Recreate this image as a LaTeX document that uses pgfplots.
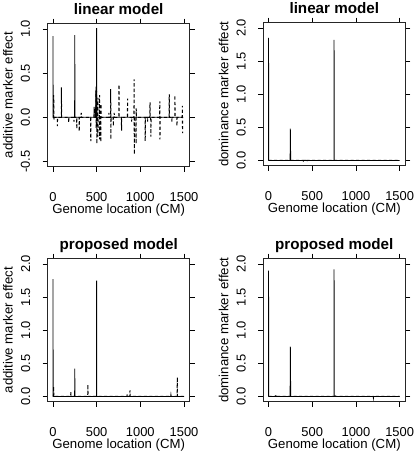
\documentclass[border=0pt]{standalone}
\usepackage{fontspec}
\setmainfont{Liberation Sans}
\usepackage{pgfplots}
\pgfplotsset{compat=1.18}

\pgfplotsset{
  rplot/.style={
    scale only axis, width=142pt, height=143pt,
    axis line style={line width=0.8pt, black!85},
    tick align=outside,
    major tick length=5pt,
    tick style={black, line width=0.6pt},
    xtick={0,500,1000,1500},
    xmin=-60, xmax=1565,
    /pgf/number format/assume math mode=true,
    /pgf/number format/1000 sep={},
    ticklabel style={font=\fontsize{12.9}{15}\selectfont},
    xticklabel style={anchor=base, yshift=-30pt},
    yticklabel style={xshift=-12.7pt, rotate=90, anchor=base,
      /pgf/number format/fixed, /pgf/number format/fixed zerofill,
      /pgf/number format/precision=1},
    xlabel={Genome location (CM)},
    label style={font=\fontsize{13.2}{15}\selectfont},
    every axis title/.style={font=\bfseries\fontsize{15.2}{18}\selectfont, at={(axis description cs:0.5,1.066)}, anchor=base},
    xlabel style={at={(axis description cs:0.5,-0.326)}, anchor=base},
    ylabel style={at={(axis description cs:-0.2465,0.5)}, anchor=base},
    clip=true,
  },
  solidline/.style={black, line width=0.8pt, sharp plot, no marks},
  dashline/.style={black, line width=1pt, sharp plot, no marks, dash pattern=on 3pt off 2.5pt},
}

\begin{document}
\begin{tikzpicture}
\useasboundingbox (0,0) rectangle (415pt,455pt);

% Panel 1: additive, linear model
\begin{axis}[rplot, at={(47.7pt,288.3pt)}, anchor=south west,
  title={linear model}, ylabel={additive marker effect},
  ymin=-0.56, ymax=1.06, ytick={-0.5,0,0.5,1}]
\addplot[dashline] table {
0 0
7 0
9 0.25
11 0
13 -0.03
15 0
49 0
51 -0.1
53 0
95 0
97 0.34
99 0
179 0
181 -0.06
183 0
239 0
241 -0.05
243 0
271 0
273 -0.13
275 0
299 0
301 -0.16
303 0
322 0
324 0.05
326 0
431 0
433 -0.27
435 0
469 0
471 0.12
473 0
484 0
486 0.1
488 0
491 0
493 0.35
495 -0.12
497 0
499 0
501 0.3
503 -0.3
505 0
511 0
513 0.22
515 -0.22
517 0
531 0
533 0.25
535 -0.25
537 0
546 0
548 -0.28
550 0.15
552 0
639 0
641 0.05
643 0
659 0
661 0.32
663 -0.25
665 0
689 0
691 -0.1
693 0
699 0
701 0.05
703 0
754 0
756 0.37
758 0
783 0
785 -0.15
787 0
852 0
854 0.21
856 0
899 0
901 -0.05
903 0
927 0
929 0.43
931 -0.42
933 0
949 0
951 -0.3
953 0.1
955 0
1054 0
1056 -0.27
1058 0
1081 0
1083 -0.05
1085 0
1109 0
1111 0.17
1113 0
1119 0
1121 -0.22
1123 0
1221 0
1223 0.18
1225 -0.25
1227 0
1329 0
1331 0.26
1333 0
1359 0
1361 -0.05
1363 0
1394 0
1396 0.25
1398 0
1417 0
1419 -0.1
1421 0
1479 0
1481 0.13
1483 -0.18
1485 0
1490 0
};
\addplot[solidline] table {
0 0
0 0.92
3 0
248 0
250 0.93
252 0
488 0
490 0.3
492 0
498 0
500 1.01
502 0
1490 0
};
\end{axis}

% Panel 2: dominance, linear model
\begin{axis}[rplot, at={(263.3pt,289.3pt)}, anchor=south west,
  title={linear model}, ylabel={dominance marker effect},
  ymin=-0.08, ymax=2.08, ytick={0,0.5,1,1.5,2}]
\addplot[dashline] table {
0 0
398 0
400 -0.03
402 0
440 0
442 -0.02
444 0
1500 0
};
\addplot[solidline] table {
0 0
0 1.85
3 0
247 0
248 0.44
249 0.48
250 0.40
251 0.46
253 0
748 0
750 1.82
752 0
1500 0
};
\end{axis}

% Panel 3: additive, proposed model
\begin{axis}[rplot, at={(47.7pt,53.3pt)}, anchor=south west,
  title={proposed model}, ylabel={additive marker effect},
  ymin=-0.08, ymax=2.08, ytick={0,0.5,1,1.5,2}]
\addplot[dashline] table {
0 0
6 0
8 0.15
10 0
203 0
205 0.08
207 0
398 0
400 0.18
402 0
848 0
850 0.03
852 0
880 0
882 0.09
884 0
1348 0
1350 0.02
1352 0
1421 0
1423 0.29
1425 0
1500 0
};
\addplot[solidline] table {
0 0
0 1.77
3 0
248 0
250 0.42
252 0
498 0
500 1.75
502 0
1500 0
};
\end{axis}

% Panel 4: dominance, proposed model
\begin{axis}[rplot, at={(263.3pt,53.3pt)}, anchor=south west,
  title={proposed model}, ylabel={dominance marker effect},
  ymin=-0.08, ymax=2.08, ytick={0,0.5,1,1.5,2}]
\addplot[dashline] table {
0 0
83 0
85 0.02
87 0
758 0
760 0.03
762 0
1198 0
1200 -0.02
1202 0
1500 0
};
\addplot[solidline] table {
0 0
0 1.90
3 0
247 0
248 0.70
249 0.75
250 0.72
251 0.74
253 0
748 0
750 1.92
752 0
1500 0
};
\end{axis}
\end{tikzpicture}
\end{document}
